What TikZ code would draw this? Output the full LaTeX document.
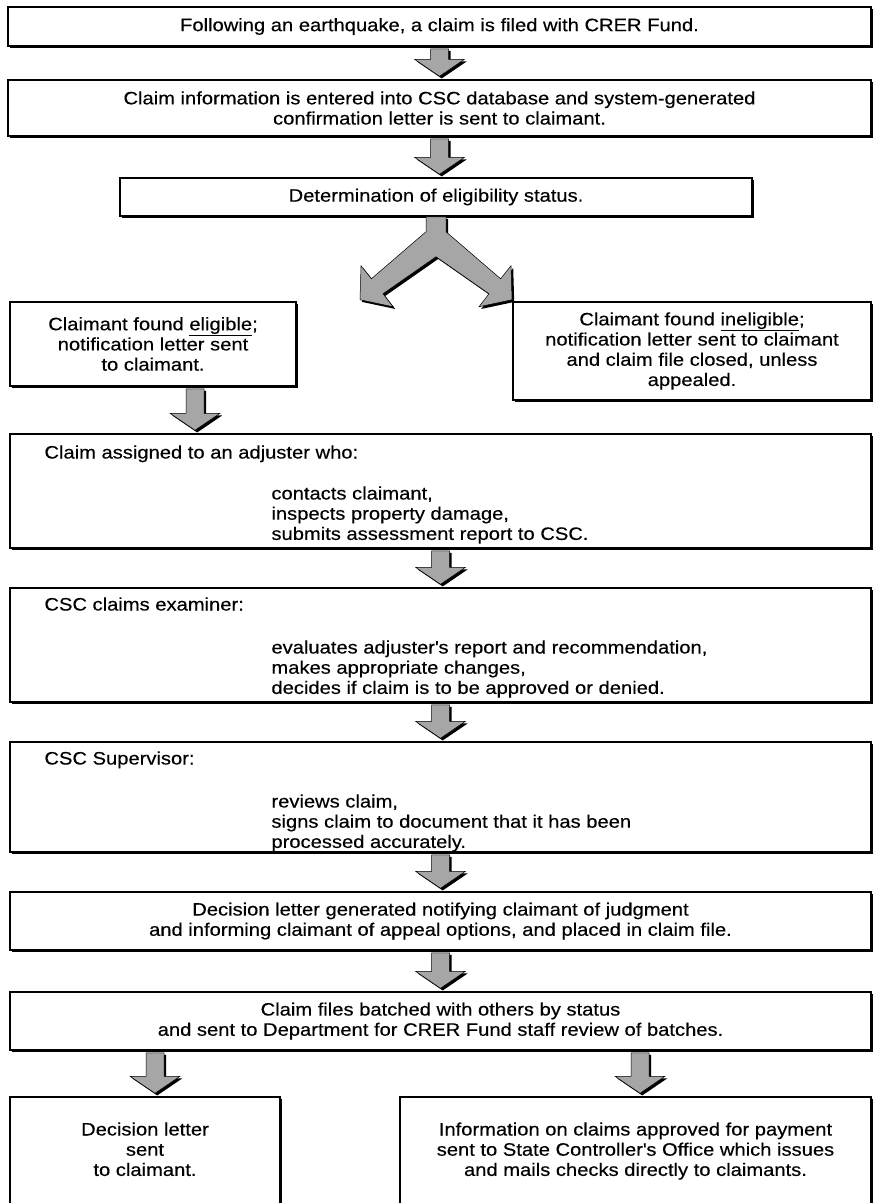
\documentclass[tikz,border=0pt]{standalone}
\usepackage{fontspec}
\setmainfont{Liberation Sans}[FakeStretch=1.12,FakeBold=0.3]
\usetikzlibrary{positioning,calc,shadows}
\newcommand{\fs}{\fontsize{18}{20.2}\selectfont}
\tikzset{box/.style={draw,line width=1.5pt,fill=white,inner sep=0pt,align=center,font=\fs,
    general shadow={fill=black,shadow xshift=1.7pt,shadow yshift=-1.7pt}}  }
\tikzset{txt/.style={inner sep=0pt,align=left,font=\fs,anchor=north west}  }
\tikzset{blk/.style={draw,line width=0.5pt,fill=black!35,
    general shadow={fill=black,shadow xshift=2.2pt,shadow yshift=-2.2pt}}  }
% block arrow from a point on a box edge down to the next box
\newcommand{\bigarrow}[2]{%
  \coordinate (s) at ($(#1)+(0,2)$);
  \coordinate (t) at ($(#1 |- #2.north)+(0,-3)$);
  \draw[blk] ($(s)+(-9,0)$) -- ($(s)+(9,0)$) -- ($(t)+(9,-17)$) -- ($(t)+(25,-17)$)
    -- (t) -- ($(t)+(-25,-17)$) -- ($(t)+(-9,-17)$) -- cycle;
}

\begin{document}
\begin{tikzpicture}[x=1pt,y=-1pt]
	\useasboundingbox (0,0) rectangle (874,1203);

	\node[box,minimum width=863pt,minimum height=39pt] (b1) at (439.5,26.5)
		{Following an earthquake, a claim is filed with CRER Fund.};
	\node[box,minimum width=863pt,minimum height=56pt] (b2) at (439.5,108)
		{Claim information is entered into CSC database and system-generated\\confirmation letter is sent to claimant.};
	\node[box,minimum width=632pt,minimum height=38pt] (b3) at (436,197)
		{Determination of eligibility status.};
	\node[box,minimum width=286pt,minimum height=84pt] (b4l) at (153,344)
		{Claimant found \underline{eligible};\\notification letter sent\\to claimant.};
	\node[box,minimum width=358pt,minimum height=98pt] (b4r) at (692,351)
		{Claimant found \underline{ineligible};\\notification letter sent to claimant\\and claim file closed, unless\\appealed.};

	\node[box,minimum width=861pt,minimum height=114pt] (b5) at (440.5,491) {};
	\node[txt] (h5) at ([shift={(35,12)}]b5.north west) {Claim assigned to an adjuster who:};
	\node[txt] (l5) at ([shift={(262,53)}]b5.north west)
		{contacts claimant,\\inspects property damage,\\submits assessment report to CSC.};

	\node[box,minimum width=861pt,minimum height=114pt] (b6) at (440.5,645) {};
	\node[txt] (h6) at ([shift={(35,10)}]b6.north west) {CSC claims examiner:};
	\node[txt] (l6) at ([shift={(262,53)}]b6.north west)
		{evaluates adjuster\textquotesingle s report and recommendation,\\makes appropriate changes,\\decides if claim is to be approved or denied.};

	\node[box,minimum width=861pt,minimum height=110pt] (b7) at (440.5,797) {};
	\node[txt] (h7) at ([shift={(35,10)}]b7.north west) {CSC Supervisor:};
	\node[txt] (l7) at ([shift={(262,53)}]b7.north west)
		{reviews claim,\\signs claim to document that it has been\\processed accurately.};

	\node[box,minimum width=861pt,minimum height=58pt] (b8) at (440.5,921)
		{Decision letter generated notifying claimant of judgment\\and informing claimant of appeal options, and placed in claim file.};
	\node[box,minimum width=861pt,minimum height=58pt] (b9) at (440.5,1021)
		{Claim files batched with others by status\\and sent to Department for CRER Fund staff review of batches.};

	\node[box,minimum width=270pt,minimum height=118pt] (b10l) at (145,1156) {};
	\node[txt,anchor=north,align=center] (t10l) at ([yshift=-26pt]b10l.north)
		{Decision letter\\sent\\to claimant.};
	\node[box,minimum width=471pt,minimum height=118pt] (b10r) at (635.5,1156) {};
	\node[txt,anchor=north,align=center] (t10r) at ([yshift=-26pt]b10r.north)
		{Information on claims approved for payment\\sent to State Controller\textquotesingle s Office which issues\\and mails checks directly to claimants.};

	\bigarrow{b1.south}{b2}
	\bigarrow{b2.south}{b3}
	% split into eligible / ineligible
	\begin{scope}[shift={(b3.south)}]
		\draw[blk] (-10,0) -- (10,0) -- (10,15) -- (64.6,62) -- (75,49) -- (76,83)
			-- (43,90) -- (53,77) -- (0,40) -- (-53,77) -- (-43,90)
			-- (-76,83) -- (-75,49) -- (-64.6,62) -- (-10,15) -- cycle;
	\end{scope}
	\coordinate (a4) at ([xshift=42pt]b4l.south);
	\bigarrow{a4}{b5}
	\bigarrow{b5.south}{b6}
	\bigarrow{b6.south}{b7}
	\bigarrow{b7.south}{b8}
	\bigarrow{b8.south}{b9}
	\coordinate (a9l) at (b9.south -| 155,0);
	\coordinate (a9r) at (b9.south -| 640,0);
	\bigarrow{a9l}{b10l}
	\bigarrow{a9r}{b10r}
\end{tikzpicture}
\end{document}
